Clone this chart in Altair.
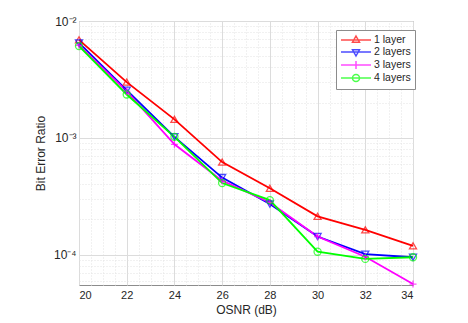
import altair as alt
import pandas as pd

osnr = [20, 22, 24, 26, 28, 30, 32, 34]
ber_1 = [6.9e-3, 3.0e-3, 1.44e-3, 6.2e-4, 3.7e-4, 2.13e-4, 1.63e-4, 1.19e-4]
ber_2 = [6.5e-3, 2.56e-3, 1.02e-3, 4.57e-4, 2.71e-4, 1.43e-4, 1.01e-4, 9.5e-5]
ber_3 = [6.2e-3, 2.5e-3, 8.8e-4, 4.3e-4, 2.8e-4, 1.43e-4, 9.6e-5, 5.6e-5]
ber_4 = [6.1e-3, 2.35e-3, 1.02e-3, 4.1e-4, 2.93e-4, 1.06e-4, 9.2e-5, 9.5e-5]
series = ["1 layer", "2 layers", "3 layers", "4 layers"]
colors = ["#FF0000", "#0000FF", "#FF00FF", "#00FF00"]
x_ticks = [20, 22, 24, 26, 28, 30, 32, 34]
y_ticks = [1e-2, 1e-3, 1e-4]

rows = []
for name, vals in zip(series, [ber_1, ber_2, ber_3, ber_4]):
    for xv, yv in zip(osnr, vals):
        rows.append({"osnr": xv, "ber": yv, "series": name})
df = pd.DataFrame(rows)

x_minor = [v / 2 for v in range(41, 68) if v % 4 != 0]
y_minor = [m * 10.0 ** e for e in (-5, -4, -3) for m in range(2, 10)]
y_minor = [v for v in y_minor if 5.5e-5 < v < 1e-2]

FONT = "Liberation Sans"
TXT = "#262626"

xscale = alt.Scale(domain=[20, 34], nice=False, zero=False)
yscale = alt.Scale(type="log", domain=[5.5e-5, 1e-2], nice=False)
cscale = alt.Scale(domain=series, range=colors)

pt_shapes = ["triangle-up", "triangle-down", "M-1,0H1M0,-1V1", "circle"]
leg_shapes = [
    "M-3,0H3M0,-0.8L0.7,0.45L-0.7,0.45Z",
    "M-3,0H3M0,0.8L0.7,-0.45L-0.7,-0.45Z",
    "M-3,0H3M0,-0.8V0.8",
    "M-3,0H3M0.7,0A0.7,0.7 0 1,1 -0.7,0A0.7,0.7 0 1,1 0.7,0",
]

label_expr = ("datum.value >= 0.005 ? '10⁻²' : "
              "(datum.value >= 0.0005 ? '10⁻³' : '10⁻⁴')")

base = alt.Chart(df)

# minor grid layer (axes only)
minor = base.mark_point(opacity=0).encode(
    x=alt.X("osnr:Q", scale=xscale,
            axis=alt.Axis(orient="top", values=x_minor, grid=True, gridDash=[1, 2],
                          gridColor="#e3e3e3", labels=False, ticks=False,
                          domain=False, title=None)),
    y=alt.Y("ber:Q", scale=yscale,
            axis=alt.Axis(orient="right", values=y_minor, grid=True, gridDash=[1, 2],
                          gridColor="#e3e3e3", labels=False, ticks=False,
                          domain=False, title=None)),
)

lines = base.mark_line(strokeWidth=1.8, clip=False).encode(
    x=alt.X("osnr:Q", scale=xscale,
            axis=alt.Axis(values=x_ticks, grid=True, gridColor="#dcdcdc",
                          title="OSNR (dB)", titleFontSize=12, titleFont=FONT,
                          titleColor=TXT, titleFontWeight="normal", titlePadding=4,
                          labelFont=FONT, labelFontSize=11, labelColor=TXT,
                          labelPadding=4, ticks=False, domain=False, format="d")),
    y=alt.Y("ber:Q", scale=yscale,
            axis=alt.Axis(values=y_ticks, grid=True, gridColor="#dcdcdc",
                          title="Bit Error Ratio", titleFontSize=12, titleFont=FONT,
                          titleColor=TXT, titleFontWeight="normal", titlePadding=6,
                          labelFont=FONT, labelFontSize=12, labelColor=TXT,
                          labelPadding=3, labelExpr=label_expr, ticks=False,
                          domain=False)),
    color=alt.Color("series:N", scale=cscale, legend=None),
    order=alt.Order("osnr:Q"),
)

points = base.mark_point(filled=False, strokeWidth=1.3, size=50, clip=False).encode(
    x=alt.X("osnr:Q", scale=xscale, axis=None),
    y=alt.Y("ber:Q", scale=yscale, axis=None),
    color=alt.Color("series:N", scale=cscale, legend=None),
    shape=alt.Shape("series:N", scale=alt.Scale(domain=series, range=pt_shapes),
                    legend=None),
)

legend_layer = base.transform_filter("false").mark_point(
    filled=False, strokeWidth=1.5).encode(
    x=alt.X("osnr:Q", scale=xscale, axis=None),
    y=alt.Y("ber:Q", scale=yscale, axis=None),
    color=alt.Color("series:N", scale=alt.Scale(domain=series, range=colors),
                    legend=alt.Legend(title=None)),
    shape=alt.Shape("series:N", scale=alt.Scale(domain=series, range=leg_shapes),
                    legend=alt.Legend(title=None)),
)

chart = alt.layer(minor, lines, points, legend_layer).resolve_scale(
    color="independent", shape="independent"
).resolve_axis(
    x="independent", y="independent"
).properties(
    width=334, height=264,
    autosize=alt.AutoSizeParams(type="none"),
    padding={"left": 71, "top": 13, "right": 40, "bottom": 34},
    background="white",
).configure_view(
    stroke="#8c8c8c", strokeWidth=1
).configure_legend(
    orient="none", legendX=257, legendY=9,
    strokeColor="#8c8c8c", fillColor="white", padding=4,
    symbolSize=100, symbolOffset=10, labelOffset=12,
    symbolStrokeWidth=1.5, symbolFillColor="transparent",
    labelFont=FONT, labelFontSize=10.5, labelColor=TXT,
    rowPadding=-1.5,
)

chart.save("out.html", embed_options={"renderer": "svg", "actions": False})
